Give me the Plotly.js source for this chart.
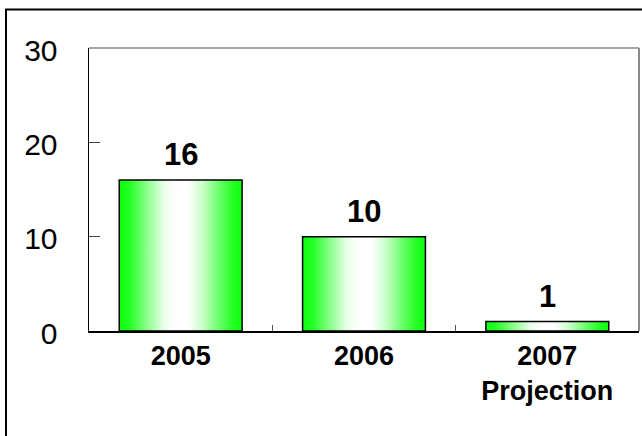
<!DOCTYPE html>
<html>
<head>
<meta charset="utf-8">
<script src="https://cdn.plot.ly/plotly-3.0.1.min.js"></script>
<style>
  html, body { margin: 0; padding: 0; background: #ffffff; }
  #chart { width: 642px; height: 436px; }
</style>
</head>
<body>
<div id="chart"></div>
<script>
// Category labels and the values shown on each bar
const categories = ['2005', '2006', '2007<br>Projection'];
const values = [16, 10, 1];
const yTicks = [0, 10, 20, 30];

const positions = categories.map((_, i) => i);
const barWidth = 0.67;
const FONT = '"Liberation Sans", Arial, sans-serif';

// Base bars (solid green, covered by the shaded fills drawn on top)
const traces = [{
  type: 'bar',
  x: positions,
  y: values,
  width: barWidth,
  marker: { color: '#22ff22', line: { width: 0 } },
  hoverinfo: 'y',
  showlegend: false
}];

// Each bar body gets a horizontal green-white-green shading and a black outline
positions.forEach((x, i) => {
  const h = barWidth / 2;
  traces.push({
    type: 'scatter',
    mode: 'lines',
    x: [x - h, x + h, x + h, x - h, x - h],
    y: [0, 0, values[i], values[i], 0],
    fill: 'toself',
    fillgradient: {
      type: 'horizontal',
      colorscale: [
        [0, '#0cff0c'], [0.08, '#22ff22'], [0.22, '#88ff88'], [0.36, '#e8ffe8'],
        [0.46, '#ffffff'], [0.56, '#ffffff'], [0.68, '#c8ffc8'], [0.82, '#66ff66'],
        [0.93, '#22ff22'], [1, '#0cff0c']
      ]
    },
    line: { color: '#000000', width: 1.5 },
    hoverinfo: 'skip',
    showlegend: false
  });
});

// Value labels above the bars
const annotations = positions.map((x, i) => ({
  x: x,
  y: values[i],
  xref: 'x',
  yref: 'y',
  text: String(values[i]),
  showarrow: false,
  yanchor: 'bottom',
  yshift: 6,
  font: { family: FONT, size: 31, color: '#000000', weight: 700 }
}));

const layout = {
  width: 642,
  height: 436,
  margin: { l: 89, r: 3, t: 48, b: 105 },
  paper_bgcolor: '#ffffff',
  plot_bgcolor: '#ffffff',
  showlegend: false,
  bargap: 0.33,
  xaxis: {
    range: [-0.5, 2.5],
    tickmode: 'array',
    tickvals: positions,
    ticktext: categories,
    ticks: '',
    showgrid: false,
    zeroline: false,
    showline: true,
    linecolor: '#000000',
    linewidth: 1.5,
    ticklabelstandoff: 0,
    tickfont: { family: FONT, size: 27, color: '#000000', weight: 700 },
    minor: {
      tickmode: 'array',
      tickvals: [0.5, 1.5],
      ticks: 'inside',
      ticklen: 6,
      tickcolor: '#555555',
      tickwidth: 1
    },
    fixedrange: true
  },
  yaxis: {
    range: [0, 30],
    tickmode: 'array',
    tickvals: yTicks,
    ticktext: yTicks.map(String),
    ticks: 'inside',
    ticklen: 11,
    tickcolor: '#444444',
    tickwidth: 1,
    showgrid: false,
    zeroline: false,
    showline: true,
    linecolor: '#000000',
    linewidth: 1.5,
    ticklabelstandoff: 24,
    ticklabelshift: 2,
    tickfont: { family: FONT, size: 30, color: '#000000' },
    fixedrange: true
  },
  annotations: annotations,
  shapes: [
    // top and right edges of the plotting area
    { type: 'line', xref: 'paper', yref: 'paper', x0: 0, x1: 1, y0: 1, y1: 1,
      line: { color: '#8a8a8a', width: 1.5 } },
    { type: 'line', xref: 'paper', yref: 'paper', x0: 1, x1: 1, y0: 0, y1: 1,
      line: { color: '#8a8a8a', width: 2 } },
    // frame around the whole chart
    { type: 'rect', xref: 'paper', yref: 'paper',
      x0: -0.1509, x1: 1.05, y0: -0.6, y1: 1.136,
      line: { color: '#000000', width: 2 }, fillcolor: 'rgba(0,0,0,0)' }
  ]
};

Plotly.newPlot('chart', traces, layout, { displayModeBar: false, staticPlot: true });
</script>
</body>
</html>
